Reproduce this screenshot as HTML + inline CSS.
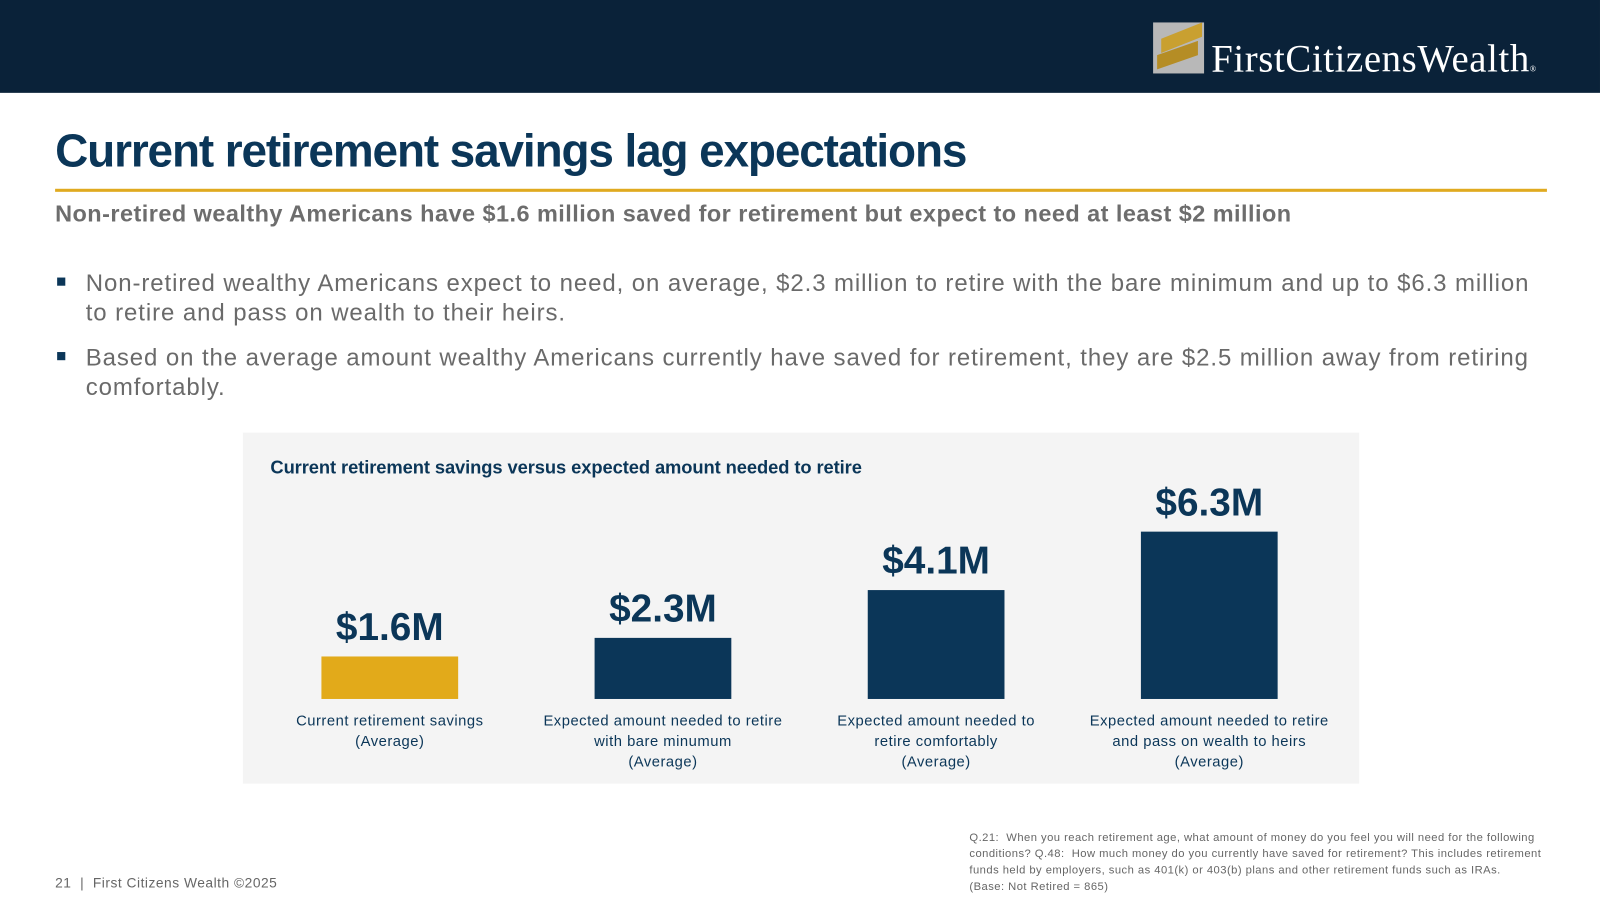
<!DOCTYPE html>
<html><head><meta charset="utf-8"><style>
body{margin:0;width:1600px;height:900px;background:#fff;font-family:"Liberation Sans",sans-serif;position:relative;overflow:hidden}
#wrap{position:absolute;left:0;top:0;width:1568px;height:882px;transform:scale(1.0204);transform-origin:0 0}
.abs{position:absolute}
#hdr{left:0;top:0;width:1568px;height:91px;background:#0a2239}
#title{left:54px;top:122px;font-size:45px;font-weight:bold;color:#0b3658;letter-spacing:-1.1px;white-space:nowrap}
#rule{left:54px;top:185px;width:1462px;height:3px;background:#e0aa20}
#sub{left:54px;top:196px;font-size:23px;font-weight:bold;color:#6d6d6d;letter-spacing:0.45px;white-space:nowrap}
.bul{left:84px;font-size:23.5px;color:#6a6a6a;line-height:29px;width:1425px;letter-spacing:0.9px}
.sq{left:56px;width:8px;height:8px;background:#0b3658}
#panel{left:238px;top:424px;width:1094px;height:344px;background:#f4f4f4}
#ctitle{left:265px;top:448px;font-size:18px;font-weight:bold;color:#0b3658;letter-spacing:-0.1px}
.foot{font-size:11px;color:#666}
</style></head><body>
<div id="wrap">
<div class="abs" id="hdr">
 <svg class="abs" style="left:1130px;top:18px" width="52" height="55">
  <rect x="0" y="4" width="50" height="50" fill="#b8b8b8"/>
  <polygon points="8,20 48,4 48,18 8,34" fill="#c9a030"/>
  <polygon points="4,36 44,22 44,36 4,50" fill="#b58d25"/>
 </svg>
 <div class="abs" style="left:1187px;top:36px;font-family:'Liberation Serif',serif;font-size:38px;color:#fff;letter-spacing:0.6px;white-space:nowrap">FirstCitizensWealth<span style="font-size:8px">®</span></div>
</div>
<div class="abs" id="title">Current retirement savings lag expectations</div>
<div class="abs" id="rule"></div>
<div class="abs" id="sub">Non-retired wealthy Americans have $1.6 million saved for retirement but expect to need at least $2 million</div>
<div class="abs sq" style="top:272px"></div>
<div class="abs bul" style="top:263px">Non-retired wealthy Americans expect to need, on average, $2.3 million to retire with the bare minimum and up to $6.3 million to retire and pass on wealth to their heirs.</div>
<div class="abs sq" style="top:345px"></div>
<div class="abs bul" style="top:336px">Based on the average amount wealthy Americans currently have saved for retirement, they are $2.5 million away from retiring comfortably.</div>
<div class="abs" id="panel"></div>
<div class="abs" id="ctitle">Current retirement savings versus expected amount needed to retire</div>
<svg class="abs" id="chart" style="left:0;top:0" width="1568" height="882"></svg>
<div class="abs foot" style="left:54px;top:858px;font-size:13.5px;letter-spacing:0.5px">21 &nbsp;| &nbsp;First Citizens Wealth ©2025</div>
<div class="abs foot" style="left:950px;top:813px;width:586px;line-height:16px;letter-spacing:0.45px">Q.21: &nbsp;When you reach retirement age, what amount of money do you feel you will need for the following conditions? Q.48: &nbsp;How much money do you currently have saved for retirement? This includes retirement funds held by employers, such as 401(k) or 403(b) plans and other retirement funds such as IRAs.<br>(Base: Not Retired = 865)</div>
</div>
<script>
const categories=[["Current retirement savings","(Average)"],["Expected amount needed to retire","with bare minumum","(Average)"],["Expected amount needed to","retire comfortably","(Average)"],["Expected amount needed to retire","and pass on wealth to heirs","(Average)"]];
const values=[1.6,2.3,4.1,6.3];
const valueLabels=["$1.6M","$2.3M","$4.1M","$6.3M"];
const colors=["#e2aa1a","#0b3658","#0b3658","#0b3658"];
const svg=document.getElementById('chart');
const NS='http://www.w3.org/2000/svg';
const base=685,pxPer=26.03,x0=382,step=267.7,bw=134;
const y=v=>base-v*pxPer;
const xc=i=>x0+i*step;
values.forEach((v,i)=>{
 const r=document.createElementNS(NS,'rect');
 r.setAttribute('x',xc(i)-bw/2);r.setAttribute('y',y(v));r.setAttribute('width',bw);r.setAttribute('height',base-y(v));r.setAttribute('fill',colors[i]);
 
 
 svg.appendChild(r);
 const t=document.createElementNS(NS,'text');
 t.setAttribute('x',xc(i));t.setAttribute('y',y(v)-16);t.setAttribute('text-anchor','middle');
 t.setAttribute('font-size','38');t.setAttribute('font-weight','bold');t.setAttribute('fill','#0b3658');t.setAttribute('font-family','Liberation Sans, sans-serif');
 t.textContent=valueLabels[i];
 
 
 svg.appendChild(t);
 categories[i].forEach((line,j)=>{
  const c=document.createElementNS(NS,'text');
  c.setAttribute('x',xc(i));c.setAttribute('y',711+j*20);c.setAttribute('text-anchor','middle');
  c.setAttribute('font-size','14.5');c.setAttribute('letter-spacing','0.5');c.setAttribute('fill','#0b3658');c.setAttribute('font-family','Liberation Sans, sans-serif');
  c.textContent=line;
  
  
  svg.appendChild(c);
 });
});
</script>
</body></html>
